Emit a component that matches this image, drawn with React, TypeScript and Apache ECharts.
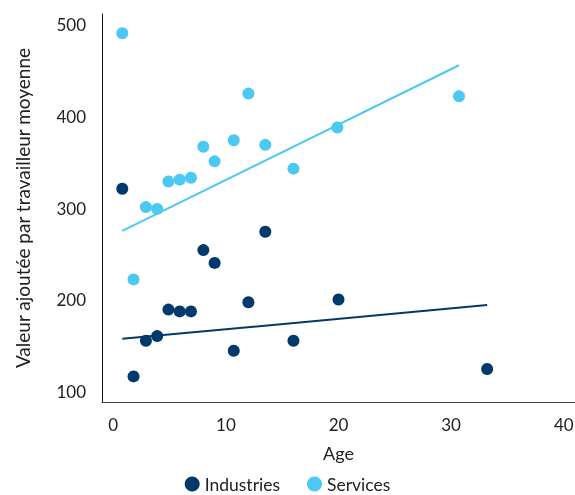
import React, { useEffect, useRef } from "react";
import * as echarts from "echarts";

const industriesX = [0.8, 1.8, 2.9, 3.9, 4.9, 5.9, 6.9, 8.0, 9.0, 10.7, 12.0, 13.5, 16.0, 20.0, 33.2];
const industriesY = [321, 116, 155, 160, 189, 187, 187, 254, 240, 144, 197, 274, 155, 200, 124];
const servicesX = [0.8, 1.8, 2.9, 3.9, 4.9, 5.9, 6.9, 8.0, 9.0, 10.7, 12.0, 13.5, 16.0, 19.9, 30.7];
const servicesY = [491, 222, 301, 299, 329, 331, 333, 367, 351, 374, 425, 369, 343, 388, 422];
const industriesTrendX = [0.8, 33.2];
const industriesTrendY = [157, 194];
const servicesTrendX = [0.8, 30.7];
const servicesTrendY = [275, 456];
const xTicks = [0, 10, 20, 30, 40];
const yTicks = [100, 200, 300, 400, 500];

const NAVY = "#00396b";
const SKY = "#4cc9f2";
const FONT = "Lato";

const zip = (xs: number[], ys: number[]) => xs.map((x, i) => [x, ys[i]]);

export default function App() {
  const ref = useRef<HTMLDivElement>(null);
  useEffect(() => {
    if (!ref.current) return;
    const chart = echarts.init(ref.current, null, { renderer: "svg" });
    chart.setOption({
      animation: false,
      textStyle: { fontFamily: FONT },
      grid: { left: 102, right: 0, top: 14, bottom: 93, outerBoundsMode: "none" },
      legend: {
        data: ["Industries", "Services"],
        icon: "circle",
        itemWidth: 15,
        itemHeight: 15,
        itemGap: 27,
        padding: 0,
        top: 475,
        left: "center",
        textStyle: { fontFamily: FONT, fontSize: 17.5, lineHeight: 17, color: "#222" },
      },
      xAxis: {
        type: "value",
        min: -1,
        max: 41,
        name: "Age",
        nameLocation: "middle",
        nameGap: 42,
        nameTextStyle: { fontFamily: FONT, fontSize: 18, color: "#222" },
        axisLine: { show: true, onZero: false, lineStyle: { color: "#444", width: 1 } },
        axisTick: { show: false, customValues: xTicks },
        splitLine: { show: false },
        axisLabel: { customValues: xTicks, fontSize: 17, color: "#222", margin: 14, fontFamily: FONT },
      },
      yAxis: {
        type: "value",
        min: 88,
        max: 512,
        name: "Valeur ajoutée par travailleur moyenne",
        nameLocation: "middle",
        nameGap: 70,
        nameTextStyle: { fontFamily: FONT, fontSize: 19, color: "#222" },
        axisLine: { show: true, onZero: false, lineStyle: { color: "#111", width: 1 } },
        axisTick: { show: false, customValues: yTicks },
        splitLine: { show: false },
        axisLabel: { customValues: yTicks, fontSize: 17, color: "#222", margin: 16, fontFamily: FONT },
      },
      series: [
        {
          name: "Industries",
          type: "scatter",
          symbolSize: 12,
          itemStyle: { color: NAVY, opacity: 1 },
          data: zip(industriesX, industriesY),
          z: 3,
        },
        {
          name: "Services",
          type: "scatter",
          symbolSize: 12,
          itemStyle: { color: SKY, opacity: 1 },
          data: zip(servicesX, servicesY),
          z: 3,
        },
        {
          name: "Industries trend",
          type: "line",
          symbol: "none",
          lineStyle: { color: NAVY, width: 2 },
          data: zip(industriesTrendX, industriesTrendY),
          z: 2,
        },
        {
          name: "Services trend",
          type: "line",
          symbol: "none",
          lineStyle: { color: SKY, width: 2 },
          data: zip(servicesTrendX, servicesTrendY),
          z: 2,
        },
      ],
    });
    return () => chart.dispose();
  }, []);
  return (
    <div
      ref={ref}
      style={{ position: "fixed", left: 0, top: 0, width: 575, height: 495 }}
    />
  );
}
